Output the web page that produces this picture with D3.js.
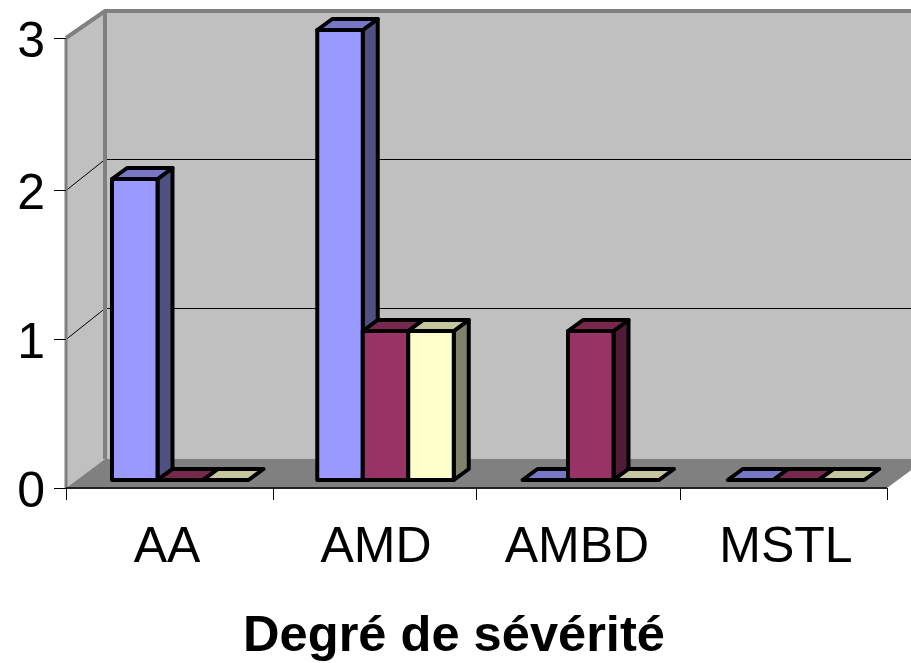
<!DOCTYPE html>
<html>
<head>
<meta charset="utf-8">
<script src="https://cdn.jsdelivr.net/npm/d3@7"></script>
<style>
  html, body { margin: 0; padding: 0; background: #fff; overflow: hidden; }
  text { font-family: "Liberation Sans", Arial, sans-serif; fill: #000; }
</style>
</head>
<body>
<div id="chart"></div>
<script>
// Data ///////////////////////////////////////////////////////////////////////

var categories = ['AA', 'AMD', 'AMBD', 'MSTL'];
var seriesA = [2, 3, 0, 0];
var seriesB = [0, 1, 1, 0];
var seriesC = [0, 1, 0, 0];
var yTicks = [0, 1, 2, 3];
var xTitle = 'Degré de sévérité';

// Layout /////////////////////////////////////////////////////////////////////

var width = 911, height = 663;
var left = 66, right = 887;
var wallDx = 39;
var barDx = 15, barDy = 11;
var barOffset = 46, barWidth = 45.5;

var seriesList = [
  { values: seriesA, front: '#9999ff', top: '#7777c6', side: '#505082' },
  { values: seriesB, front: '#993366', top: '#77284f', side: '#501b36' },
  { values: seriesC, front: '#ffffcc', top: '#c6c69f', side: '#82826b' }
];

var svg = d3.select('#chart').append('svg')
  .attr('width', width)
  .attr('height', height)
  .style('display', 'block');

// front of the box, back wall and the plane the bars stand on
var yFront = d3.scaleLinear().domain(yTicks).range([488, 339, 190, 38]);
var yBack = d3.scaleLinear().domain(yTicks).range([459, 308, 159, 11]);
var yBar = d3.scaleLinear().domain(yTicks).range([480, 331, 179, 30]);

var x0 = d3.scaleBand().domain(categories).range([left, right]);
var xEdge = d3.scaleLinear().domain([0, 1, 2, 3, 4]).range([left, 273, 476, 680, right]);
var xLabel = d3.scaleOrdinal().domain(categories).range([167, 376, 577, 786]);

function poly(points) {
  return 'M' + points.map(function(p){ return p.join(','); }).join('L') + 'Z';
}

// Walls //////////////////////////////////////////////////////////////////////

svg.append('rect')
  .attr('x', left + wallDx)
  .attr('y', yBack(3))
  .attr('width', width - left - wallDx)
  .attr('height', yBack(0) - yBack(3))
  .style('fill', '#c0c0c0');

svg.append('path')
  .attr('d', poly([[left, yFront(3)], [left + wallDx, yBack(3)], [left + wallDx, yBack(0)], [left, yFront(0)]]))
  .style('fill', '#c0c0c0');

svg.append('path')
  .attr('d', poly([[left, yFront(0)], [left + wallDx, yBack(0)], [right + wallDx, yBack(0)], [right, yFront(0)]]))
  .style('fill', '#808080');

// half pixel so the 1px lines stay black
svg.selectAll('.grid')
  .data(yTicks.slice(1, 3))
  .enter().append('path')
  .attr('class', 'grid')
  .attr('d', function(d){
    return 'M' + left + ',' + (yFront(d) + 0.5) + 'L' + (left + wallDx) + ',' + (yBack(d) + 0.5) + 'L' + width + ',' + (yBack(d) + 0.5);
  })
  .style('fill', 'none')
  .style('stroke', '#000')
  .style('stroke-width', 1);

svg.append('path')
  .attr('d', 'M' + left + ',' + yFront(0) + 'L' + left + ',' + yFront(3))
  .style('fill', 'none')
  .style('stroke', '#808080')
  .style('stroke-width', 3);

svg.append('path')
  .attr('d', 'M' + left + ',' + yFront(3) + 'L' + (left + wallDx) + ',' + yBack(3) + 'L' + width + ',' + yBack(3))
  .style('fill', 'none')
  .style('stroke', '#808080')
  .style('stroke-width', 4);

svg.append('path')
  .attr('d', 'M' + (left + wallDx) + ',' + yBack(3) + 'L' + (left + wallDx) + ',' + yBack(0))
  .style('fill', 'none')
  .style('stroke', '#808080')
  .style('stroke-width', 4);

// Bars ///////////////////////////////////////////////////////////////////////

categories.forEach(function(cat, c) {
  var group = svg.append('g');

  seriesList.forEach(function(s, i) {
    var xa = x0(cat) + barOffset + i * barWidth;
    var xb = xa + barWidth;
    var yt = yBar(s.values[c]);
    var yb = yBar(0);
    var bar = group.append('g')
      .style('stroke', '#000')
      .style('stroke-width', 4)
      .style('stroke-linejoin', 'round');

    if (s.values[c] > 0) {
      bar.append('path')
        .attr('d', poly([[xb, yt], [xb + barDx, yt - barDy], [xb + barDx, yb - barDy], [xb, yb]]))
        .style('fill', s.side);
      bar.append('path')
        .attr('d', poly([[xa, yt], [xb, yt], [xb, yb], [xa, yb]]))
        .style('fill', s.front);
    }
    bar.append('path')
      .attr('d', poly([[xa, yt], [xa + barDx, yt - barDy], [xb + barDx, yt - barDy], [xb, yt]]))
      .style('fill', s.top);
  });
});

// Axes ///////////////////////////////////////////////////////////////////////

var yAxis = d3.axisLeft(yFront).tickValues(yTicks).tickSize(12).tickPadding(9).tickFormat(d3.format('d'));
var gy = svg.append('g').attr('transform', 'translate(' + left + ',0)').call(yAxis);
gy.select('.domain').remove();
gy.selectAll('.tick line').style('stroke', '#000');
gy.selectAll('.tick text').style('font-size', '50px').attr('dy', '0.36em');

var xAxis = d3.axisBottom(xEdge).tickValues([0, 1, 2, 3, 4]).tickSize(12).tickFormat('');
var gx = svg.append('g').attr('transform', 'translate(0,' + yFront(0) + ')').call(xAxis);
gx.select('.domain').attr('d', 'M' + left + ',0H' + right).style('stroke', '#222').style('stroke-width', 2);
gx.selectAll('.tick line').style('stroke', '#000');

svg.selectAll('.cat')
  .data(categories)
  .enter().append('text')
  .attr('class', 'cat')
  .attr('x', function(d){ return xLabel(d); })
  .attr('y', 562)
  .attr('text-anchor', 'middle')
  .style('font-size', '50px')
  .text(function(d){ return d; });

svg.append('text')
  .attr('x', 454)
  .attr('y', 651)
  .attr('text-anchor', 'middle')
  .style('font-size', '50.6px')
  .style('font-weight', 'bold')
  .text(xTitle);
</script>
</body>
</html>
